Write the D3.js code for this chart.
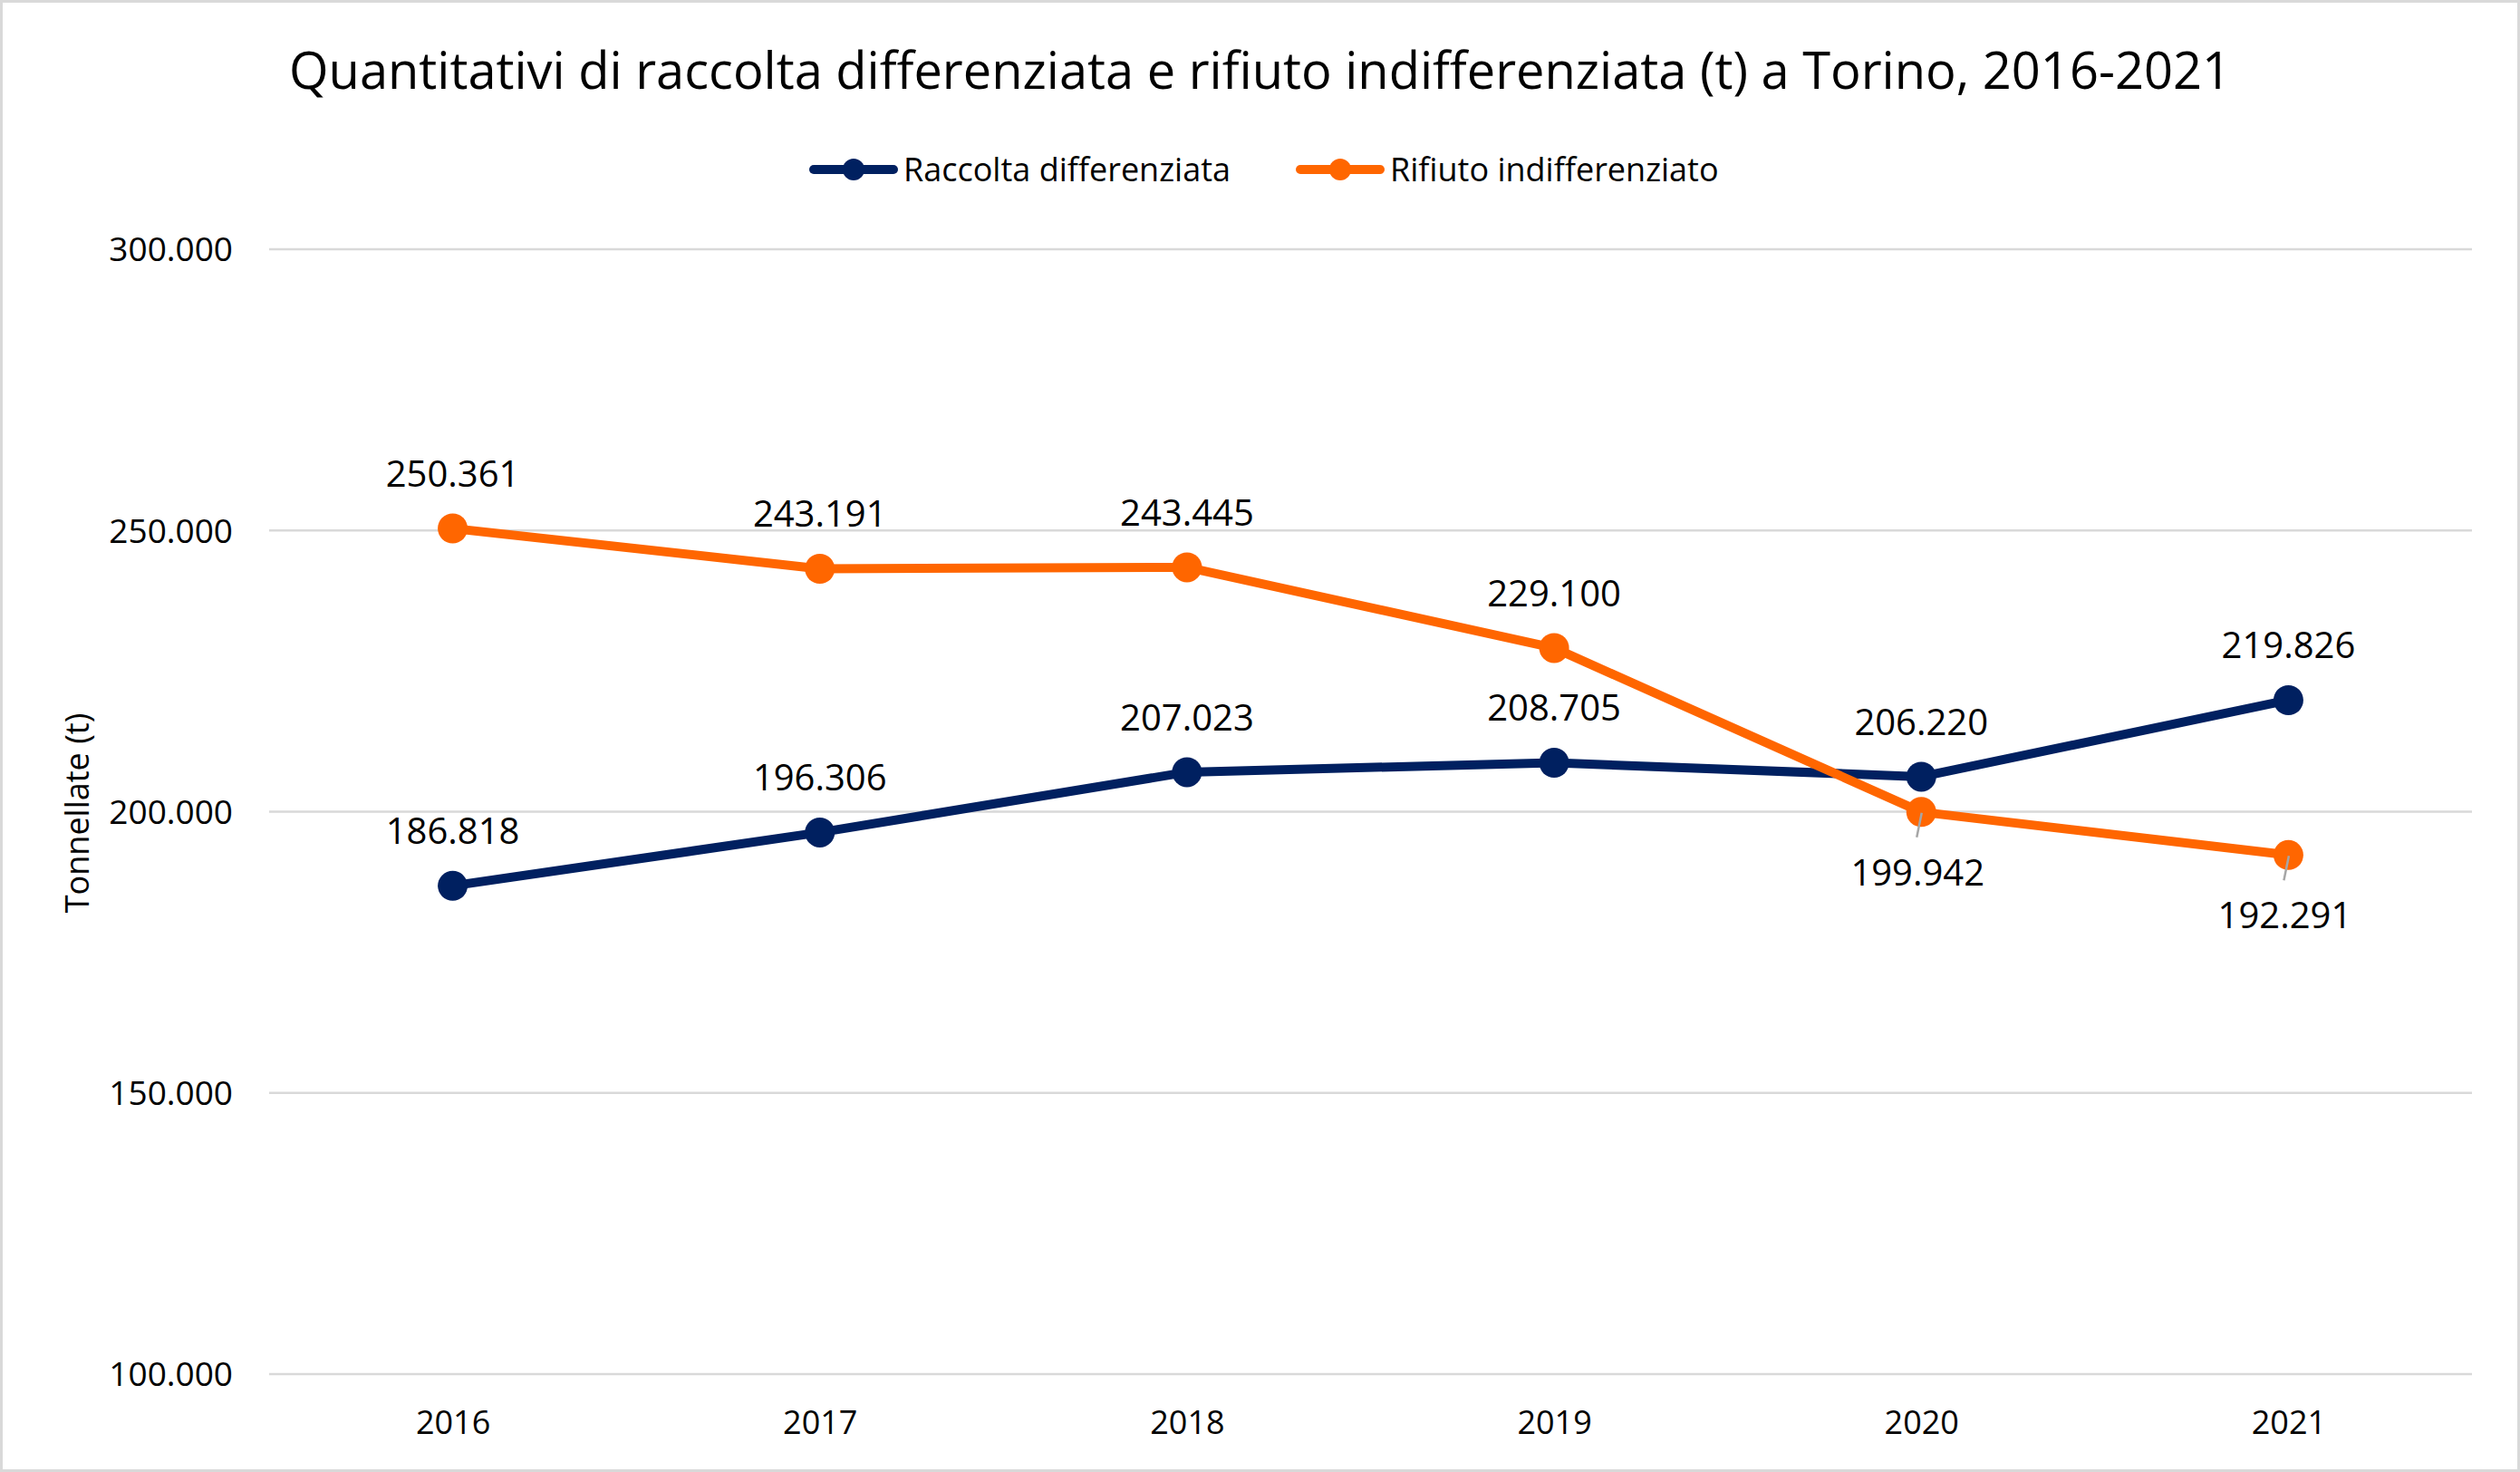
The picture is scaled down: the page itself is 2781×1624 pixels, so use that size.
<!DOCTYPE html>
<html>
<head>
<meta charset="utf-8">
<script src="https://cdn.jsdelivr.net/npm/d3@7"></script>
<style>
  html, body { margin: 0; padding: 0; background: #fff; }
  svg { display: block; }
  text { font-family: "Open Sans", "Noto Sans", sans-serif; fill: #000; }
</style>
</head>
<body>
<svg id="chart" width="2781" height="1624"></svg>
<script>
const years = ["2016", "2017", "2018", "2019", "2020", "2021"];
const raccolta = [186818, 196306, 207023, 208705, 206220, 219826];
const rifiuto = [250361, 243191, 243445, 229100, 199942, 192291];
const yTicks = [100000, 150000, 200000, 250000, 300000];
const seriesNames = ["Raccolta differenziata", "Rifiuto indifferenziato"];
const labelBelow = [[false, false, false, false, false, false], [false, false, false, false, true, true]];
const title = "Quantitativi di raccolta differenziata e rifiuto indifferenziata (t) a Torino, 2016-2021";
const yTitle = "Tonnellate (t)";

const colors = ["#002060", "#FF6600"];
const W = 2781, H = 1624;
const svg = d3.select("#chart");

const it = d3.formatLocale({ decimal: ",", thousands: ".", grouping: [3], currency: ["", " €"] });
const fmt = it.format(",.0f");

const x = d3.scalePoint().domain(years).range([297, 2728]).padding(0.5);
const y = d3.scaleLinear().domain([100000, 300000]).range([1516, 275]);

// frame
svg.append("rect").attr("x", 1.5).attr("y", 1.5).attr("width", W - 3).attr("height", H - 3)
  .attr("fill", "#fff").attr("stroke", "#d9d9d9").attr("stroke-width", 3);

// title
svg.append("text").attr("x", W / 2).attr("y", 98).attr("text-anchor", "middle")
  .attr("font-size", 56).text(title);

// gridlines
svg.append("g").selectAll("line").data(yTicks).join("line")
  .attr("x1", 297).attr("x2", 2728)
  .attr("y1", d => y(d)).attr("y2", d => y(d))
  .attr("stroke", "#d9d9d9").attr("stroke-width", 2.5);

// y axis labels
const yAxis = d3.axisLeft(y).tickValues(yTicks).tickFormat(fmt).tickSize(0).tickPadding(0);
const gy = svg.append("g").attr("transform", "translate(257,0)").call(yAxis);
gy.select(".domain").remove();
gy.selectAll("text").attr("font-size", 37).attr("font-family", "Open Sans").attr("fill", "#000")
  .attr("dy", "0.35em");

// x axis labels
const xAxis = d3.axisBottom(x).tickSize(0).tickPadding(0);
const gx = svg.append("g").attr("transform", "translate(0,1556)").call(xAxis);
gx.select(".domain").remove();
gx.selectAll("text").attr("font-size", 36).attr("font-family", "Open Sans").attr("fill", "#000")
  .attr("dy", "0.71em");

// y title
svg.append("text").attr("transform", "translate(98,897) rotate(-90)").attr("text-anchor", "middle")
  .attr("font-size", 36).text(yTitle);

// lines & markers
const data = [raccolta, rifiuto];
const line = d3.line().x((d, i) => x(years[i])).y(d => y(d));
data.forEach((vals, s) => {
  svg.append("path").datum(vals).attr("d", line).attr("fill", "none")
    .attr("stroke", colors[s]).attr("stroke-width", 10).attr("stroke-linejoin", "round");
  svg.append("g").selectAll("circle").data(vals).join("circle")
    .attr("cx", (d, i) => x(years[i])).attr("cy", d => y(d)).attr("r", 16.5)
    .attr("fill", colors[s]);
});

// leader lines and data labels
data.forEach((vals, s) => {
  vals.forEach((v, i) => {
    const px = x(years[i]), py = y(v);
    if (labelBelow[s][i]) {
      svg.append("line").attr("x1", px + 0.5).attr("y1", py + 1).attr("x2", px - 5).attr("y2", py + 28)
        .attr("stroke", "#a6a6a6").attr("stroke-width", 2.5);
      svg.append("text").attr("x", px - 4).attr("y", py + 81).attr("text-anchor", "middle")
        .attr("font-size", 40).text(fmt(v));
    } else {
      svg.append("text").attr("x", px).attr("y", py - 46).attr("text-anchor", "middle")
        .attr("font-size", 40).text(fmt(v));
    }
  });
});

// legend
const legendItems = [{ cx: 942, tx: 997 }, { cx: 1479, tx: 1534 }];
const lg = svg.append("g");
seriesNames.forEach((name, s) => {
  const it2 = legendItems[s];
  lg.append("line").attr("x1", it2.cx - 44).attr("x2", it2.cx + 44).attr("y1", 187).attr("y2", 187)
    .attr("stroke", colors[s]).attr("stroke-width", 10).attr("stroke-linecap", "round");
  lg.append("circle").attr("cx", it2.cx).attr("cy", 187).attr("r", 12).attr("fill", colors[s]);
  lg.append("text").attr("x", it2.tx).attr("y", 187).attr("dy", "0.35em")
    .attr("font-size", 36).text(name);
});
</script>
</body>
</html>
